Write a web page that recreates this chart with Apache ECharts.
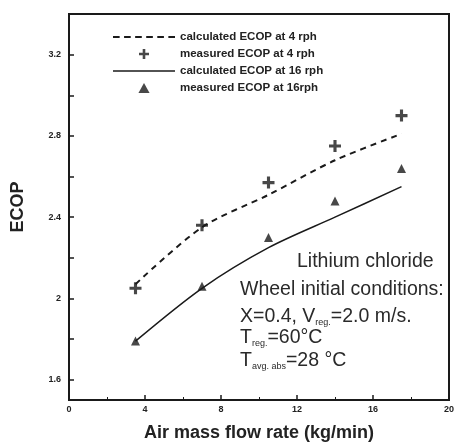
<!DOCTYPE html>
<html><head><meta charset="utf-8">
<script src="https://cdn.jsdelivr.net/npm/echarts@6/dist/echarts.min.js"></script>
<style>html,body{margin:0;padding:0;background:#fff}#c{width:458px;height:442px}</style>
</head><body><div id="c"></div>
<script>
const flowRates = [3.5, 7, 10.5, 14, 17.5];
const calc4rph = [2.07, 2.35, 2.51, 2.68, 2.81];
const meas4rph = [2.05, 2.36, 2.57, 2.75, 2.90];
const calc16rph = [1.79, 2.05, 2.25, 2.40, 2.55];
const meas16rph = [1.79, 2.06, 2.30, 2.48, 2.64];
const yTickLabels = [1.6, 2.0, 2.4, 2.8, 3.2];
const yTicks = [1.6, 1.8, 2.0, 2.2, 2.4, 2.6, 2.8, 3.0, 3.2];
const seriesNames = ['calculated ECOP at 4 rph', 'measured ECOP at 4 rph', 'calculated ECOP at 16 rph', 'measured ECOP at 16rph'];

const pair = (xs, ys) => xs.map((x, i) => [x, ys[i]]);
const plusPath = 'path://M3.7,0H6.3V3.7H10V6.3H6.3V10H3.7V6.3H0V3.7H3.7Z';
const triPath = 'path://M5,0L10,9H0Z';
const dashIcon = 'path://M0,0H6V2H0Z M10,0H16V2H10Z M20,0H26V2H20Z M30,0H36V2H30Z M40,0H46V2H40Z M50,0H56V2H50Z';
const solidIcon = 'path://M0,0H62V1.6H0Z';
const ink = '#1a1a1a';
const FF = 'Liberation Sans';
const rich = {
  n: { fontFamily: FF, fontSize: 19.5, fill: '#2a2a2a', lineHeight: 21 },
  s: { fontFamily: FF, fontSize: 9, fill: '#2a2a2a', verticalAlign: 'bottom', lineHeight: 10, padding: [9, 0, 0, 0] }
};

const chart = echarts.init(document.getElementById('c'), null, { renderer: 'canvas' });
chart.setOption({
  animation: false,
  backgroundColor: '#fff',
  grid: { left: 69, top: 14, right: 9, bottom: 42, outerBoundsMode: 'none', containLabel: false,
    show: true, borderColor: ink, borderWidth: 2, backgroundColor: 'transparent' },
  legend: {
    orient: 'vertical', left: 113, top: 31, padding: 0, itemWidth: 62, itemHeight: 10, itemGap: 5,
    textStyle: { fontFamily: FF, fontSize: 11.5, fontWeight: 'bold', color: '#222' },
    data: [
      { name: seriesNames[0], icon: dashIcon },
      { name: seriesNames[1], icon: plusPath },
      { name: seriesNames[2], icon: solidIcon },
      { name: seriesNames[3], icon: triPath }
    ]
  },
  xAxis: {
    type: 'value', min: 0, max: 20, interval: 4,
    name: 'Air mass flow rate (kg/min)', nameLocation: 'middle', nameGap: 24,
    nameTextStyle: { fontFamily: FF, fontSize: 18, fontWeight: 'bold', color: '#222' },
    axisLine: { lineStyle: { color: ink, width: 2 } },
    axisTick: { inside: true, length: 5, lineStyle: { color: ink, width: 1.5 } },
    minorTick: { show: true, splitNumber: 2, length: 3, lineStyle: { color: ink } },
    axisLabel: { margin: 5, fontFamily: FF, fontSize: 9, fontWeight: 'bold', color: '#222' },
    splitLine: { show: false }
  },
  yAxis: {
    type: 'value', min: 1.5, max: 3.4,
    name: 'ECOP', nameLocation: 'middle', nameGap: 42,
    nameTextStyle: { fontFamily: FF, fontSize: 18, fontWeight: 'bold', color: '#222' },
    axisLine: { show: true, lineStyle: { color: ink, width: 2 } },
    axisTick: { show: true, inside: true, length: 5, customValues: yTicks, lineStyle: { color: ink, width: 1.5 } },
    axisLabel: { margin: 8, customValues: yTickLabels, fontFamily: FF, fontSize: 9, fontWeight: 'bold', color: '#222' },
    splitLine: { show: false }
  },
  series: [
    { name: seriesNames[0], type: 'line', smooth: 0.3, symbol: 'none', data: pair(flowRates, calc4rph),
      lineStyle: { color: ink, width: 2, type: [6, 5] }, itemStyle: { color: ink } },
    { name: seriesNames[1], type: 'scatter', symbol: plusPath, symbolSize: 12, data: pair(flowRates, meas4rph),
      itemStyle: { color: ink } },
    { name: seriesNames[2], type: 'line', smooth: 0.3, symbol: 'none', data: pair(flowRates, calc16rph),
      lineStyle: { color: ink, width: 1.5 }, itemStyle: { color: ink } },
    { name: seriesNames[3], type: 'scatter', symbol: 'triangle', symbolSize: 9, data: pair(flowRates, meas16rph),
      itemStyle: { color: ink } }
  ],
  graphic: [
    { type: 'text', left: 297, top: 252, style: { text: 'Lithium chloride', font: '19.5px "Liberation Sans"', fill: '#2a2a2a' } },
    { type: 'text', left: 240, top: 280, style: { text: 'Wheel initial conditions:', font: '19.5px "Liberation Sans"', fill: '#2a2a2a' } },
    { type: 'text', left: 240, top: 307, style: { text: '{n|X=0.4, V}{s|reg.}{n|=2.0 m/s.}', rich: rich } },
    { type: 'text', left: 240, top: 328, style: { text: '{n|T}{s|reg.}{n|=60°C}', rich: rich } },
    { type: 'text', left: 240, top: 351, style: { text: '{n|T}{s|avg. abs}{n|=28 °C}', rich: rich } }
  ]
});
</script>
</body></html>
